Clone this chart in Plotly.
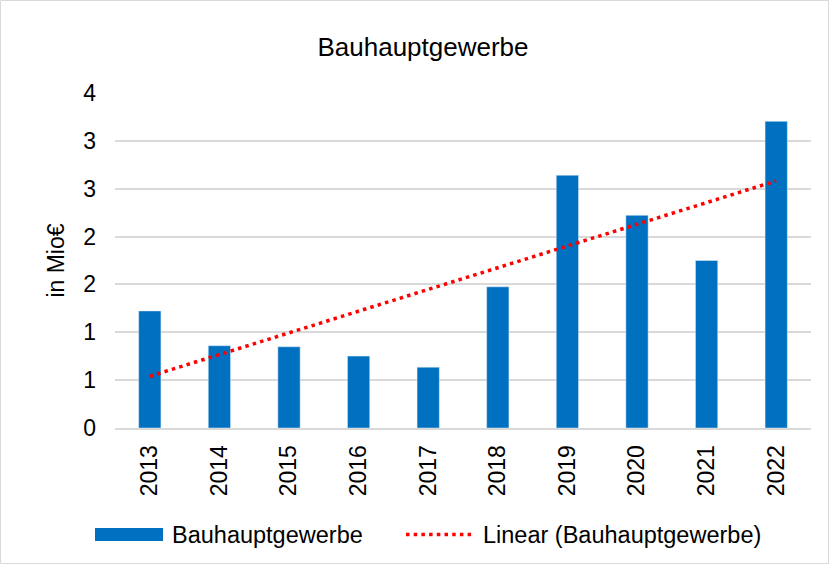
import numpy as np
import plotly.graph_objects as go

years = ["2013", "2014", "2015", "2016", "2017", "2018", "2019", "2020", "2021", "2022"]
values = [1.223, 0.86, 0.849, 0.751, 0.636, 1.475, 2.641, 2.222, 1.75, 3.204]
tick_vals = [0, 0.5, 1.0, 1.5, 2.0, 2.5, 3.0, 3.5]
tick_text = ["0", "1", "1", "2", "2", "3", "3", "4"]
series_name = "Bauhauptgewerbe"
trend_name = "Linear (Bauhauptgewerbe)"
title_text = "Bauhauptgewerbe"
y_title = "in Mio€"

# linear trend (least squares) derived from the data
idx = np.arange(len(values))
slope, intercept = np.polyfit(idx, values, 1)
trend = list(slope * idx + intercept)

W, H = 829, 564
L, R, T, B = 115, 18, 93, 136
PW, PH = W - L - R, H - T - B
FONT = "Liberation Sans, Arial, sans-serif"
BLUE = "#0070C0"
RED = "#FF0000"
DOT = "3.5px,4.2px"


def xp(px):
    return (px - L) / PW


def yp(py):
    return (H - B - py) / PH


fig = go.Figure()
fig.add_trace(go.Bar(x=years, y=values, name=series_name, marker_color=BLUE,
                     width=0.32, showlegend=False))
fig.add_trace(go.Scatter(x=years, y=trend, name=trend_name, mode="lines",
                         line=dict(color=RED, width=3.5, dash=DOT), showlegend=False))

shapes = [
    # outer chart border
    dict(type="rect", xref="paper", yref="paper", x0=xp(0.5), x1=xp(W - 0.5),
         y0=yp(H - 0.5), y1=yp(0.5), line=dict(color="#D9D9D9", width=1), layer="below"),
    # legend: bar swatch
    dict(type="rect", xref="paper", yref="paper", x0=xp(95), x1=xp(163),
         y0=yp(541), y1=yp(528), fillcolor=BLUE, line=dict(width=0)),
    # legend: dotted trend line
    dict(type="line", xref="paper", yref="paper", x0=xp(406), x1=xp(474),
         y0=yp(534.5), y1=yp(534.5), line=dict(color=RED, width=3.5, dash=DOT)),
]
annotations = [
    dict(text=series_name, xref="paper", yref="paper", x=xp(170), y=yp(535),
         xanchor="left", yanchor="middle", showarrow=False,
         font=dict(family=FONT, size=23.5, color="#000000")),
    dict(text=trend_name, xref="paper", yref="paper", x=xp(481), y=yp(535),
         xanchor="left", yanchor="middle", showarrow=False,
         font=dict(family=FONT, size=23.5, color="#000000")),
]

fig.update_layout(
    width=W, height=H,
    margin=dict(l=L, r=R, t=T, b=B, pad=0),
    paper_bgcolor="white", plot_bgcolor="white",
    font=dict(family=FONT, size=23, color="#000000"),
    title=dict(text=title_text, x=423 / W, xanchor="center", xref="container",
               y=1 - 47 / H, yanchor="middle", yref="container",
               font=dict(family=FONT, size=26, color="#000000")),
    shapes=shapes, annotations=annotations,
    bargap=0.68,
    showlegend=False,
)
fig.update_xaxes(type="category", tickangle=-90, showgrid=False, ticks="",
                 showline=True, linecolor="#D9D9D9", linewidth=2,
                 tickfont=dict(family=FONT, size=23, color="#000000"),
                 ticklabelstandoff=6)
fig.update_yaxes(range=[0, 3.5], tickvals=tick_vals, ticktext=tick_text,
                 showgrid=True, gridcolor="#D9D9D9", gridwidth=1.5,
                 zeroline=False, showline=False, ticks="",
                 tickfont=dict(family=FONT, size=23, color="#000000"),
                 ticklabelstandoff=18,
                 title=dict(text=y_title, standoff=12,
                            font=dict(family=FONT, size=23, color="#000000")))

fig.write_html("out.html", config={"displayModeBar": False},
               post_script="document.body.style.margin='0';document.body.style.overflow='hidden';")
